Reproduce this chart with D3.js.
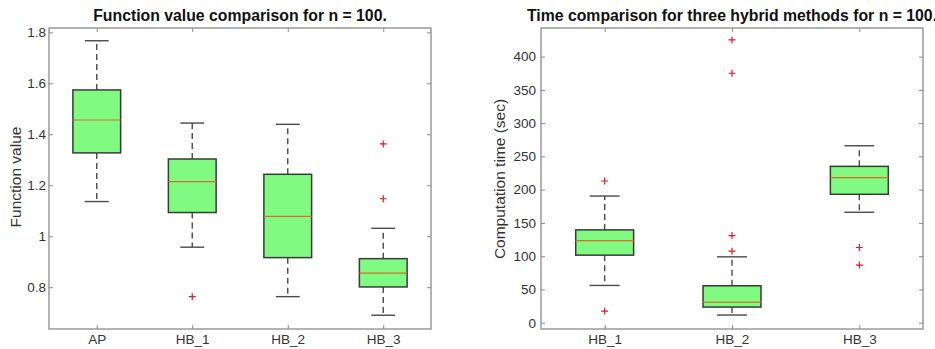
<!DOCTYPE html>
<html>
<head>
<meta charset="utf-8">
<script src="https://cdn.jsdelivr.net/npm/d3@7"></script>
<style>
  body { margin: 0; background: #fff; }
  svg { display: block; font-family: "Liberation Sans", Arial, Helvetica, sans-serif; }
</style>
</head>
<body>
<svg id="chart" width="935" height="349"></svg>
<script>
// valores
const fvCategories = ["AP", "HB_1", "HB_2", "HB_3"];
const fvLow = [1.136, 0.957, 0.763, 0.690];
const fvQ1 = [1.327, 1.093, 0.916, 0.801];
const fvMedian = [1.456, 1.214, 1.078, 0.855];
const fvQ3 = [1.574, 1.303, 1.243, 0.912];
const fvHigh = [1.767, 1.444, 1.439, 1.031];
const fvOutliers = [[], [0.763], [], [1.362, 1.147]];
const fvTicks = [0.8, 1, 1.2, 1.4, 1.6, 1.8];

const timeCategories = ["HB_1", "HB_2", "HB_3"];
const timeLow = [56, 11.5, 166];
const timeQ1 = [101.5, 23.5, 193];
const timeMedian = [123.4, 31, 218];
const timeQ3 = [139.5, 55.5, 235];
const timeHigh = [190.4, 99, 266];
const timeOutliers = [[213, 17.5], [425, 375, 131, 107.5], [113, 86.6]];
const timeTicks = [0, 50, 100, 150, 200, 250, 300, 350, 400];

const svg = d3.select('#chart');

const AXIS_COLOR = '#8a8a8a';
const LINE_COLOR = '#4a4a4a';
const BOX_FILL = '#80fa80';
const MEDIAN_COLOR = '#d0702c';
const OUTLIER_COLOR = '#d42020';

/**
 * Dibuja un panel de boxplot
 */
function drawPanel(cfg) {
  const g = svg.append('g');
  const n = cfg.categories.length;

  const x = d3.scaleLinear().domain([0.5, n + 0.5]).range([cfg.left, cfg.right]);
  const y = d3.scaleLinear().domain(cfg.yDomain).range([cfg.bottom, cfg.top]);
  const unit = x(2) - x(1);

  // marco
  g.append('rect')
    .attr('x', cfg.left).attr('y', cfg.top)
    .attr('width', cfg.right - cfg.left).attr('height', cfg.bottom - cfg.top)
    .attr('fill', 'none').attr('stroke', AXIS_COLOR).attr('stroke-width', 1.3);

  const styleAxis = sel => {
    sel.select('.domain').remove();
    sel.selectAll('.tick line').attr('stroke', AXIS_COLOR).attr('stroke-width', 1);
    sel.selectAll('.tick text').attr('fill', '#333').attr('font-family', null);
  };

  g.append('g')
    .attr('transform', `translate(${cfg.left},0)`)
    .call(d3.axisLeft(y).tickValues(cfg.ticks).tickFormat(d3.format('~g'))
      .tickSizeInner(-4).tickSizeOuter(0).tickPadding(cfg.yPad))
    .call(styleAxis)
    .selectAll('.tick text').attr('font-size', 13.5);

  g.append('g')
    .attr('transform', `translate(${cfg.right},0)`)
    .call(d3.axisRight(y).tickValues(cfg.ticks).tickFormat('')
      .tickSizeInner(-4).tickSizeOuter(0))
    .call(styleAxis);

  const catIdx = d3.range(1, n + 1);
  g.append('g')
    .attr('transform', `translate(0,${cfg.bottom})`)
    .call(d3.axisBottom(x).tickValues(catIdx).tickFormat(i => cfg.categories[i - 1])
      .tickSizeInner(-4).tickSizeOuter(0).tickPadding(5))
    .call(styleAxis)
    .selectAll('.tick text').attr('font-size', 13.5);

  g.append('g')
    .attr('transform', `translate(0,${cfg.top})`)
    .call(d3.axisTop(x).tickValues(catIdx).tickFormat('')
      .tickSizeInner(-4).tickSizeOuter(0))
    .call(styleAxis);

  // cajas
  const rows = cfg.categories.map((c, i) => ({
    pos: i + 1, low: cfg.low[i], q1: cfg.q1[i], med: cfg.median[i],
    q3: cfg.q3[i], high: cfg.high[i], out: cfg.outliers[i]
  }));

  const boxes = g.selectAll('.box').data(rows).join('g').attr('class', 'box');
  const bw = unit * cfg.boxFrac / 2;
  const cw = unit * cfg.capFrac / 2;

  boxes.append('line')
    .attr('x1', d => x(d.pos)).attr('x2', d => x(d.pos))
    .attr('y1', d => y(d.q3)).attr('y2', d => y(d.high))
    .attr('stroke', LINE_COLOR).attr('stroke-width', 1.4).attr('stroke-dasharray', '6,4');
  boxes.append('line')
    .attr('x1', d => x(d.pos)).attr('x2', d => x(d.pos))
    .attr('y1', d => y(d.q1)).attr('y2', d => y(d.low))
    .attr('stroke', LINE_COLOR).attr('stroke-width', 1.4).attr('stroke-dasharray', '6,4');
  ['high', 'low'].forEach(k => {
    boxes.append('line')
      .attr('x1', d => x(d.pos) - cw).attr('x2', d => x(d.pos) + cw)
      .attr('y1', d => y(d[k])).attr('y2', d => y(d[k]))
      .attr('stroke', LINE_COLOR).attr('stroke-width', 1.4);
  });

  boxes.append('rect')
    .attr('x', d => x(d.pos) - bw).attr('width', bw * 2)
    .attr('y', d => y(d.q3)).attr('height', d => y(d.q1) - y(d.q3))
    .attr('fill', BOX_FILL).attr('stroke', '#3a3a3a').attr('stroke-width', 1.5);

  boxes.append('line')
    .attr('x1', d => x(d.pos) - bw).attr('x2', d => x(d.pos) + bw)
    .attr('y1', d => y(d.med)).attr('y2', d => y(d.med))
    .attr('stroke', MEDIAN_COLOR).attr('stroke-width', 1.2);

  boxes.selectAll('.outlier')
    .data(d => d.out.map(v => ({ pos: d.pos, v })))
    .join('path')
    .attr('class', 'outlier')
    .attr('d', d => `M${x(d.pos) - 3.5},${y(d.v)}h7M${x(d.pos)},${y(d.v) - 3.5}v7`)
    .attr('stroke', OUTLIER_COLOR).attr('stroke-width', 1.2);

  // titulo y etiqueta
  g.append('text')
    .attr('x', (cfg.left + cfg.right) / 2).attr('y', 21)
    .attr('text-anchor', 'middle')
    .attr('font-size', 15.8).attr('font-weight', 'bold').attr('fill', '#111')
    .text(cfg.title);

  g.append('text')
    .attr('transform', `translate(${cfg.ylabelX},${cfg.ylabelY}) rotate(-90)`)
    .attr('text-anchor', 'middle')
    .attr('font-size', 15.5).attr('fill', '#333')
    .text(cfg.ylabel);
}

drawPanel({
  categories: fvCategories, low: fvLow, q1: fvQ1, median: fvMedian, q3: fvQ3,
  high: fvHigh, outliers: fvOutliers, ticks: fvTicks,
  yDomain: [0.636, 1.817],
  left: 49, right: 431, top: 28, bottom: 329,
  boxFrac: 0.5, capFrac: 0.25, yPad: 3,
  title: 'Function value comparison for n = 100.',
  ylabel: 'Function value', ylabelX: 20.5, ylabelY: 177
});

drawPanel({
  categories: timeCategories, low: timeLow, q1: timeQ1, median: timeMedian, q3: timeQ3,
  high: timeHigh, outliers: timeOutliers, ticks: timeTicks,
  yDomain: [-9.5, 443],
  left: 541, right: 923, top: 28, bottom: 329,
  boxFrac: 0.455, capFrac: 0.235, yPad: 5,
  title: 'Time comparison for three hybrid methods for n = 100.',
  ylabel: 'Computation time (sec)', ylabelX: 505, ylabelY: 179
});
</script>
</body>
</html>
